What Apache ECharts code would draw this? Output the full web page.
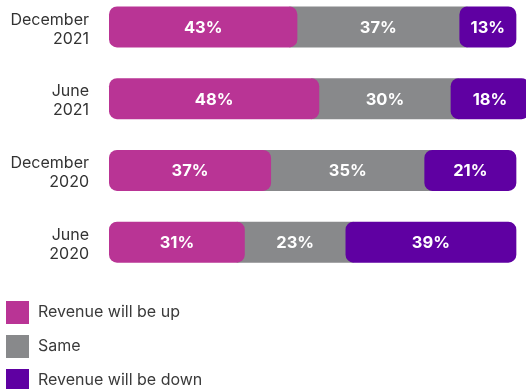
<!DOCTYPE html>
<html>
<head>
<meta charset="utf-8">
<script src="https://cdn.jsdelivr.net/npm/echarts@6/dist/echarts.min.js"></script>
<style>
  html, body { margin: 0; padding: 0; background: #ffffff; }
  #chart { width: 526px; height: 389px; }
</style>
</head>
<body>
<div id="chart"></div>
<script>
// Survey periods, top to bottom
const periods = ['December\n2021', 'June\n2021', 'December\n2020', 'June\n2020'];

// Share of respondents (%) per answer
const upShare = [43, 48, 37, 31];
const sameShare = [37, 30, 35, 23];
const downShare = [13, 18, 21, 39];

const seriesNames = ['Revenue will be up', 'Same', 'Revenue will be down'];
const seriesColors = ['#B93495', '#88898B', '#5F00A2'];
const FONT = 'Inter, "Noto Sans", sans-serif';
const BAR_H = 41;
const RADIUS = 8;

const shares = [upShare, sameShare, downShare];

// Running start of each segment along the stack
const starts = shares.map(() => []);
periods.forEach((_, i) => {
  let acc = 0;
  shares.forEach((arr, s) => {
    starts[s][i] = acc;
    acc += arr[i];
  });
});

function makeSeries(s) {
  const rounded = s !== 1; // middle segment is square and tucks under its neighbours
  return {
    name: seriesNames[s],
    type: 'custom',
    z: rounded ? 3 : 2,
    clip: false,
    itemStyle: { color: seriesColors[s] },
    encode: { x: [0, 1], y: 2 },
    data: shares[s].map((v, i) => [starts[s][i], starts[s][i] + v, i, v]),
    renderItem: function (params, api) {
      const a = api.coord([api.value(0), api.value(2)]);
      const b = api.coord([api.value(1), api.value(2)]);
      const ext = rounded ? 0 : RADIUS;
      return {
        type: 'group',
        children: [
          {
            type: 'rect',
            shape: {
              x: a[0] - ext,
              y: a[1] - BAR_H / 2,
              width: b[0] - a[0] + 2 * ext,
              height: BAR_H,
              r: rounded ? RADIUS : 0
            },
            style: { fill: seriesColors[s] }
          },
          {
            type: 'text',
            z2: 10,
            style: {
              text: api.value(3) + '%',
              x: (a[0] + b[0]) / 2,
              y: a[1] + 1,
              align: 'center',
              verticalAlign: 'middle',
              fill: '#ffffff',
              font: 'bold 16.5px ' + FONT
            }
          }
        ]
      };
    }
  };
}

const chart = echarts.init(document.getElementById('chart'), null, { renderer: 'canvas' });
chart.setOption({
  animation: false,
  grid: {
    left: 109, width: 438, top: -9, height: 287,
    containLabel: false,
    outerBoundsMode: 'none'
  },
  xAxis: {
    type: 'value',
    min: 0,
    max: 100,
    show: false
  },
  yAxis: {
    type: 'category',
    data: periods,
    inverse: true,
    axisLine: { show: false },
    axisTick: { show: false },
    splitLine: { show: false },
    axisLabel: {
      margin: 20,
      fontSize: 16,
      lineHeight: 19,
      color: '#333333',
      fontFamily: FONT,
      // small spacer line nudges the two-line label slightly downward
      formatter: (v) => '{gap|}\n' + v,
      rich: { gap: { height: 5, lineHeight: 5, fontSize: 1 } }
    }
  },
  legend: {
    orient: 'vertical',
    left: 6,
    top: 301,
    height: 120,
    padding: 0,
    itemWidth: 23,
    itemHeight: 23,
    itemGap: 11,
    icon: 'rect',
    data: seriesNames,
    textStyle: {
      fontSize: 16,
      color: '#3a3a3a',
      fontFamily: FONT,
      padding: [4, 0, 0, 4]
    }
  },
  series: [0, 1, 2].map(makeSeries)
});
</script>
</body>
</html>
